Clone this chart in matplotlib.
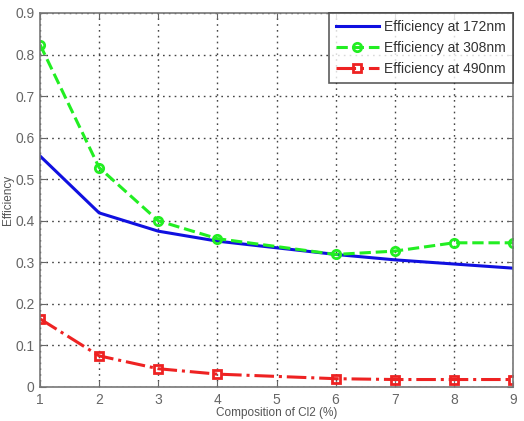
import matplotlib
matplotlib.use("Agg")
import matplotlib.pyplot as plt

x = [1, 2, 3, 4, 6, 7, 8, 9]
eff_172 = [0.556, 0.419, 0.375, 0.351, 0.319, 0.306, 0.296, 0.286]
eff_308 = [0.824, 0.528, 0.400, 0.357, 0.319, 0.327, 0.347, 0.347]
eff_490 = [0.164, 0.075, 0.044, 0.031, 0.020, 0.018, 0.018, 0.018]
xticks = [1, 2, 3, 4, 5, 6, 7, 8, 9]
yticks = [0, 0.1, 0.2, 0.3, 0.4, 0.5, 0.6, 0.7, 0.8, 0.9]

plt.rcParams['font.family'] = ['Liberation Sans', 'DejaVu Sans']

W, H = 524, 421
fig = plt.figure(figsize=(W / 100, H / 100), dpi=100)
ax = fig.add_axes([40 / W, 1 - 387 / H, (513 - 40) / W, (387 - 13) / H])

ax.plot(x, eff_172, color='#1010e0', lw=2.2, label='Efficiency at 172nm')
ax.plot(x, eff_308, color='#22ee22', lw=2.2, ls='--', marker='o', ms=6,
        mfc='none', mec='#22ee22', mew=2, label='Efficiency at 308nm')
ax.plot(x, eff_490, color='#ee2222', lw=2.2, ls='-.', marker='s', ms=6,
        mfc='none', mec='#ee2222', mew=2, label='Efficiency at 490nm')

ax.set_xlim(1, 9)
ax.set_ylim(0, 0.9)
ax.set_xticks(xticks)
ax.set_yticks(yticks)
ax.set_xticklabels([str(t) for t in xticks])
ax.set_yticklabels(['0'] + [f'{t:.1f}' for t in yticks[1:]])
ax.grid(True, ls=(0, (1.2, 3)), color='#444444', lw=1)
ax.tick_params(direction='in', top=True, right=True, labelsize=10,
               colors='#666666', length=4, pad=4)
for s in ax.spines.values():
    s.set_color('#777777')
    s.set_linewidth(1.2)

ax.set_xlabel('Composition of Cl2 (%)', fontsize=8.5, color='#555555')
ax.xaxis.set_label_coords(0.5, (387 - 407) / 374)
ax.set_ylabel('Efficiency', fontsize=8.5, color='#555555', va='center')
ax.yaxis.set_label_coords((8 - 40) / 473, 0.5)

leg = ax.legend(loc='upper right', fontsize=10, frameon=True, fancybox=False,
                borderaxespad=0, handlelength=3.1, borderpad=0.5,
                labelspacing=0.5, handletextpad=0.4)
leg.get_frame().set_edgecolor('#333333')
leg.get_frame().set_linewidth(1.2)
for t in leg.get_texts():
    t.set_color('#333333')

fig.savefig('out.png', dpi=100)
